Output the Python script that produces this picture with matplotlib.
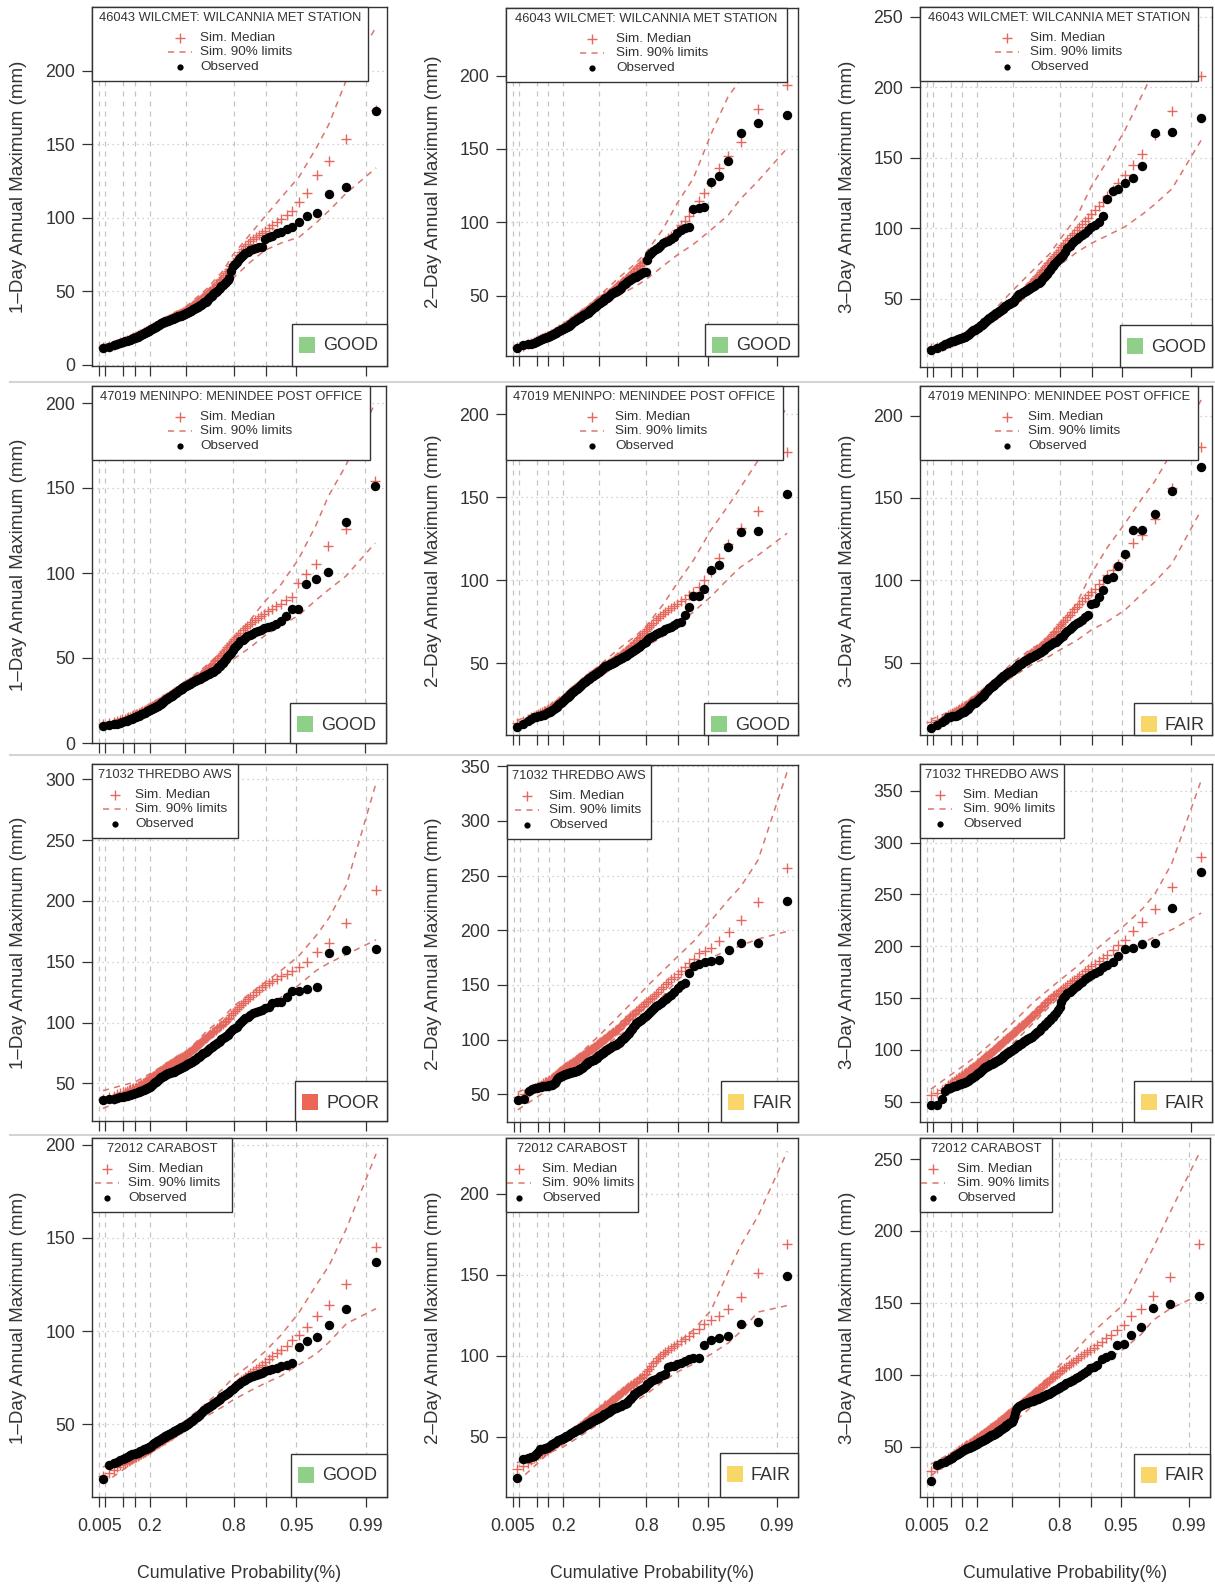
import numpy as np
import matplotlib
matplotlib.use("Agg")
import matplotlib.pyplot as plt
from matplotlib.patches import Rectangle
from matplotlib.lines import Line2D
from matplotlib.transforms import Affine2D
from matplotlib.ticker import MultipleLocator, NullLocator

plt.rcParams['font.family'] = ['Liberation Sans', 'DejaVu Sans']

# ------------------------------------------------------------------
# Data: sorted annual maxima (mm), simulated medians and 90% limits
# ------------------------------------------------------------------
N_YEARS = 127
LIM_RANKS = [1, 13, 26, 45, 64, 83, 96, 102, 110, 115, 119, 122, 124, 125, 126, 127]
PROB_TICKS = [0.005, 0.01, 0.05, 0.1, 0.2, 0.5, 0.8, 0.9, 0.95, 0.99]
PROB_LABELS = ['0.005', '', '', '', '0.2', '', '0.8', '', '0.95', '0.99']
DURATIONS = ['1\u2013Day', '2\u2013Day', '3\u2013Day']
STATIONS = ['46043 WILCMET: WILCANNIA MET STATION',
            '47019 MENINPO: MENINDEE POST OFFICE',
            '71032 THREDBO AWS',
            '72012 CARABOST']
RATINGS = [['GOOD', 'GOOD', 'GOOD'],
           ['GOOD', 'GOOD', 'FAIR'],
           ['POOR', 'FAIR', 'FAIR'],
           ['GOOD', 'FAIR', 'FAIR']]

# --- Wilcannia ---
WIL_1D_OBS = [11.8, 12.5, 13.6, 14.4, 15.2, 15.6, 16.0, 16.5, 16.8, 17.0,
              17.5, 18.1, 18.6, 19.0, 19.3, 19.7, 20.1, 20.6, 21.0, 21.5,
              21.9, 22.3, 22.7, 23.0, 23.4, 23.8, 24.2, 24.5, 24.9, 25.3,
              25.6, 26.0, 26.5, 27.0, 27.4, 27.9, 28.3, 28.8, 29.0, 29.2,
              29.4, 29.6, 29.8, 30.0, 30.2, 30.5, 30.7, 31.0, 31.2, 31.5,
              31.7, 32.0, 32.2, 32.5, 32.7, 33.0, 33.1, 33.3, 33.6, 33.9,
              34.2, 34.5, 34.8, 35.1, 35.5, 35.9, 36.3, 36.6, 37.0, 37.4,
              37.8, 38.2, 38.5, 38.9, 39.3, 39.6, 40.0, 40.5, 41.0, 41.5,
              42.0, 42.5, 43.0, 43.8, 44.6, 45.5, 46.3, 47.1, 48.0, 48.8,
              49.7, 50.6, 51.6, 52.5, 53.5, 54.4, 55.5, 56.7, 57.8, 59.0,
              64.0, 67.0, 68.5, 70.3, 72.0, 73.7, 75.0, 76.0, 77.0, 78.0,
              78.7, 79.4, 80.0, 80.5, 86.0, 87.0, 88.0, 89.5, 90.7, 92.3,
              94.0, 97.5, 101.6, 103.2, 116.3, 121.3, 173.0]
WIL_1D_MED = [12.0, 12.8, 13.5, 14.5, 15.3, 15.8, 16.3, 16.8, 17.3, 17.8,
              18.3, 18.7, 19.2, 19.6, 20.1, 20.5, 20.9, 21.4, 21.8, 22.2,
              22.6, 23.0, 23.4, 23.8, 24.1, 24.5, 24.8, 25.2, 25.5, 25.8,
              26.2, 26.5, 26.8, 27.2, 27.5, 27.8, 28.2, 28.5, 28.8, 29.2,
              29.5, 29.8, 30.2, 30.5, 30.8, 31.1, 31.5, 31.8, 32.1, 32.5,
              32.8, 33.1, 33.4, 33.7, 34.0, 34.3, 34.6, 34.8, 35.2, 35.6,
              36.0, 36.3, 36.6, 37.0, 37.5, 38.0, 38.5, 39.0, 39.5, 40.0,
              40.5, 41.0, 41.5, 42.0, 42.5, 43.0, 43.5, 44.2, 45.0, 45.6,
              46.3, 46.9, 47.5, 48.2, 49.0, 49.8, 50.6, 51.4, 52.2, 53.0,
              54.1, 55.2, 56.3, 57.5, 58.7, 60.0, 61.2, 62.4, 63.7, 65.0,
              67.0, 69.0, 71.0, 73.0, 75.0, 77.0, 79.0, 81.0, 82.5, 84.0,
              85.5, 87.0, 88.3, 89.5, 91.0, 93.0, 95.0, 97.0, 99.0, 102.0,
              105.0, 111.0, 117.0, 129.0, 139.0, 153.5, 173.5]
WIL_1D_LO = [10.5, 17.5, 22.5, 28.5, 33, 42, 52, 59, 70, 78, 83, 87, 97, 105, 117, 134]
WIL_1D_HI = [13.5, 20, 25.5, 32, 39.5, 51, 64, 75, 89, 101, 114, 128, 148, 164, 194, 230]

WIL_2D_OBS = [14.5, 16.4, 16.8, 17.1, 17.5, 18.2, 18.9, 19.6, 20.3, 20.9,
              21.3, 21.7, 22.1, 22.5, 22.9, 23.2, 23.8, 24.4, 24.9, 25.5,
              25.9, 26.2, 26.6, 27.0, 27.3, 27.7, 28.1, 28.5, 28.9, 29.2,
              29.6, 30.0, 30.5, 31.0, 31.5, 32.0, 32.5, 33.0, 33.4, 33.8,
              34.2, 34.6, 35.0, 35.4, 35.7, 36.1, 36.5, 36.9, 37.3, 37.6,
              38.0, 38.5, 39.0, 39.5, 40.0, 40.5, 41.0, 41.4, 42.0, 42.5,
              43.1, 43.6, 44.2, 44.8, 45.2, 45.7, 46.1, 46.6, 47.0, 47.5,
              48.1, 48.7, 49.3, 49.9, 50.5, 51.0, 51.6, 52.0, 52.4, 52.8,
              53.1, 53.5, 53.9, 54.7, 55.5, 56.3, 57.1, 57.9, 58.7, 59.5,
              60.1, 60.7, 61.3, 61.9, 62.5, 63.0, 63.5, 64.1, 64.6, 65.2,
              65.8, 66.4, 74.0, 77.7, 79.2, 80.7, 81.5, 82.3, 84.0, 85.7,
              86.6, 87.5, 88.4, 89.8, 92.5, 94.8, 96.4, 97.0, 109.0, 109.5,
              110.2, 127.3, 131.8, 142.0, 160.7, 167.5, 173.2]
WIL_2D_MED = [15.0, 16.0, 17.0, 17.8, 18.5, 19.1, 19.7, 20.3, 20.9, 21.5,
              21.9, 22.3, 22.8, 23.2, 23.6, 24.0, 24.5, 25.0, 25.5, 26.0,
              26.5, 27.0, 27.5, 28.0, 28.5, 29.0, 29.4, 29.8, 30.2, 30.7,
              31.1, 31.5, 32.0, 32.5, 33.0, 33.5, 34.0, 34.5, 34.9, 35.4,
              35.8, 36.3, 36.7, 37.1, 37.5, 37.9, 38.3, 38.8, 39.2, 39.6,
              40.0, 40.5, 41.0, 41.5, 42.0, 42.5, 43.0, 43.5, 44.0, 44.5,
              45.0, 45.5, 46.0, 46.5, 47.0, 47.5, 48.0, 48.5, 49.0, 49.5,
              50.0, 50.5, 51.0, 51.5, 52.0, 52.5, 53.0, 53.7, 54.3, 55.0,
              55.7, 56.3, 57.0, 57.7, 58.4, 59.2, 60.0, 60.7, 61.4, 62.0,
              63.0, 64.0, 65.0, 66.0, 67.0, 68.0, 69.0, 70.0, 71.0, 72.0,
              73.0, 74.0, 75.5, 77.0, 78.5, 80.0, 81.5, 83.0, 84.5, 86.0,
              87.5, 89.0, 90.5, 92.0, 95.0, 98.0, 101.0, 104.0, 108.0, 114.5,
              120.0, 127.0, 136.8, 145.0, 155.0, 177.0, 193.6]
WIL_2D_LO = [13.5, 20.5, 26, 33.5, 41, 50, 56.5, 60.7, 70, 77.7, 85, 94.8, 105, 116, 128, 150.5]
WIL_2D_HI = [15.5, 23.5, 29.5, 38.5, 49.5, 62, 72, 79, 95, 113, 130, 160, 186, 197, 212, 233]

WIL_3D_OBS = [13.9, 15.5, 16.8, 18.0, 19.1, 19.6, 20.1, 20.5, 21.0, 21.4,
              21.8, 22.2, 22.6, 23.0, 23.4, 23.8, 24.6, 25.3, 26.1, 26.9,
              27.4, 27.8, 28.3, 28.8, 29.2, 29.7, 30.2, 30.7, 31.3, 31.8,
              32.3, 32.8, 33.4, 34.0, 34.6, 35.2, 35.7, 36.3, 36.7, 37.2,
              37.6, 38.1, 38.5, 39.0, 39.4, 39.9, 40.3, 40.8, 41.3, 41.7,
              42.2, 42.7, 43.2, 43.7, 44.3, 44.8, 45.3, 45.8, 46.2, 46.6,
              46.9, 47.3, 47.7, 48.1, 48.9, 49.7, 50.4, 51.2, 52.0, 52.8,
              53.2, 53.7, 54.1, 54.6, 55.0, 55.5, 55.9, 56.4, 56.8, 57.3,
              57.8, 58.2, 58.7, 59.3, 59.8, 60.4, 61.0, 61.5, 62.1, 62.7,
              64.0, 65.3, 66.6, 67.9, 69.2, 70.5, 72.0, 73.4, 74.9, 76.4,
              77.6, 78.8, 80.0, 81.2, 83.5, 85.9, 87.6, 89.4, 90.8, 92.3,
              93.8, 95.3, 97.1, 98.9, 100.8, 102.4, 104.8, 108.8, 120.6, 126.7,
              127.7, 131.9, 135.5, 144.4, 167.3, 168.3, 178.4]
WIL_3D_MED = [15.0, 16.0, 16.8, 17.7, 18.5, 19.0, 19.6, 20.2, 20.8, 21.4,
              21.9, 22.4, 22.9, 23.4, 23.9, 24.4, 25.0, 25.5, 26.0, 26.5,
              27.0, 27.5, 28.0, 28.5, 29.0, 29.5, 30.0, 30.5, 31.0, 31.5,
              32.0, 32.5, 33.0, 33.5, 34.0, 34.5, 35.0, 35.5, 36.0, 36.5,
              37.0, 37.4, 37.8, 38.3, 38.7, 39.2, 39.6, 40.1, 40.6, 41.1,
              41.6, 42.1, 42.6, 43.1, 43.6, 44.1, 44.6, 45.1, 45.7, 46.3,
              46.9, 47.5, 48.0, 48.5, 49.1, 49.6, 50.2, 50.8, 51.4, 52.0,
              52.7, 53.4, 54.1, 54.8, 55.5, 56.3, 57.0, 57.8, 58.6, 59.5,
              60.4, 61.2, 62.0, 63.0, 64.0, 65.0, 66.0, 67.0, 68.0, 69.0,
              70.2, 71.4, 72.6, 73.9, 75.2, 76.5, 77.9, 79.3, 80.6, 82.0,
              83.5, 85.0, 86.5, 88.0, 89.8, 91.5, 93.2, 95.0, 97.0, 99.0,
              101.0, 103.0, 105.3, 107.5, 110.0, 113.0, 116.0, 119.0, 123.0, 127.0,
              132.0, 138.0, 145.0, 153.0, 166.0, 183.0, 208.0]
WIL_3D_LO = [13, 20.5, 27, 35.5, 44, 55, 67, 74, 83, 89.4, 95, 101.2, 110, 117, 128, 162.6]
WIL_3D_HI = [15.5, 24, 32, 43, 56, 70, 82, 91.8, 108, 129.6, 148, 169.7, 195, 213, 230, 245]

# --- Menindee ---
MEN_1D_OBS = [10.2, 10.6, 11.0, 11.4, 11.8, 12.3, 12.7, 13.2, 13.6, 14.1,
              14.4, 14.8, 15.1, 15.4, 15.8, 16.1, 16.5, 16.9, 17.2, 17.6,
              17.9, 18.3, 18.6, 18.9, 19.3, 19.6, 19.9, 20.1, 20.4, 20.7,
              20.9, 21.2, 21.6, 22.0, 22.3, 22.7, 23.1, 23.5, 23.9, 24.4,
              24.8, 25.2, 25.7, 26.1, 26.5, 26.8, 27.1, 27.5, 27.8, 28.1,
              28.4, 28.8, 29.3, 29.7, 30.1, 30.5, 31.0, 31.4, 31.7, 32.0,
              32.4, 32.7, 33.0, 33.3, 33.6, 34.0, 34.3, 34.6, 35.0, 35.3,
              35.6, 36.0, 36.3, 36.6, 36.9, 37.3, 37.6, 37.9, 38.3, 38.6,
              38.9, 39.3, 39.6, 40.0, 40.3, 40.7, 41.1, 41.5, 41.8, 42.2,
              43.0, 43.8, 44.6, 45.4, 46.2, 47.0, 48.3, 49.5, 50.8, 52.0,
              53.2, 54.5, 55.7, 56.9, 58.4, 59.8, 60.8, 61.8, 62.8, 63.7,
              64.4, 65.1, 65.9, 66.7, 67.5, 68.2, 69.0, 70.2, 71.6, 74.9,
              78.8, 78.8, 93.5, 96.5, 100.6, 129.8, 151.0]
MEN_1D_MED = [11.0, 11.5, 12.1, 12.8, 13.5, 13.9, 14.3, 14.7, 15.1, 15.5,
              15.8, 16.2, 16.5, 16.8, 17.2, 17.5, 17.9, 18.3, 18.6, 19.0,
              19.3, 19.7, 20.0, 20.3, 20.7, 21.0, 21.3, 21.7, 22.0, 22.3,
              22.7, 23.0, 23.3, 23.7, 24.0, 24.3, 24.7, 25.0, 25.4, 25.7,
              26.0, 26.3, 26.6, 27.0, 27.3, 27.6, 28.0, 28.4, 28.8, 29.1,
              29.5, 29.8, 30.1, 30.4, 30.7, 31.1, 31.5, 32.0, 32.3, 32.6,
              33.0, 33.3, 33.6, 34.0, 34.3, 34.6, 35.0, 35.3, 35.7, 36.0,
              36.4, 36.8, 37.3, 37.7, 38.1, 38.5, 39.0, 39.4, 39.9, 40.4,
              40.9, 41.4, 42.0, 42.7, 43.5, 44.2, 44.9, 45.6, 46.3, 47.0,
              48.0, 49.0, 50.0, 51.0, 52.0, 53.0, 54.1, 55.2, 56.3, 57.5,
              58.7, 60.0, 61.2, 62.5, 63.7, 65.0, 66.3, 67.5, 68.8, 70.0,
              71.3, 72.5, 73.8, 75.0, 76.0, 77.5, 79.0, 80.5, 82.0, 84.0,
              86.0, 94.0, 99.4, 105.3, 115.7, 125.9, 153.9]
MEN_1D_LO = [9, 14, 18.5, 25, 31, 37.5, 44, 49, 56, 63, 69, 75, 84, 90, 98, 117.6]
MEN_1D_HI = [11.5, 17, 21.5, 28.5, 36, 45, 54, 60.8, 72, 83, 93, 108, 128, 145, 163, 200]

MEN_2D_OBS = [11.4, 13.5, 15.0, 16.4, 17.5, 17.8, 18.0, 18.3, 18.6, 18.9,
              19.4, 19.9, 20.4, 20.9, 21.4, 21.9, 22.4, 22.9, 23.4, 23.9,
              24.6, 25.2, 25.9, 26.6, 27.2, 27.9, 28.4, 28.9, 29.4, 29.9,
              30.4, 30.9, 31.4, 31.9, 32.4, 32.9, 33.4, 33.9, 34.3, 34.8,
              35.2, 35.7, 36.1, 36.6, 37.0, 37.5, 38.0, 38.5, 39.0, 39.5,
              40.0, 40.3, 40.7, 41.0, 41.4, 41.7, 42.1, 42.4, 42.8, 43.3,
              43.7, 44.1, 44.6, 45.0, 45.5, 46.0, 46.5, 47.0, 47.5, 48.0,
              48.3, 48.6, 48.9, 49.1, 49.4, 49.7, 50.0, 50.3, 50.7, 51.0,
              51.3, 51.7, 52.0, 52.4, 52.9, 53.3, 53.7, 54.1, 54.6, 55.0,
              55.6, 56.1, 56.7, 57.3, 57.8, 58.4, 59.2, 59.9, 60.7, 61.4,
              62.3, 63.1, 64.1, 65.1, 65.9, 66.7, 67.4, 68.1, 68.9, 69.7,
              70.4, 71.1, 72.1, 73.1, 74.1, 75.1, 79.1, 83.7, 90.6, 90.6,
              94.6, 106.2, 109.2, 120.3, 128.9, 129.9, 152.0]
MEN_2D_MED = [14.0, 15.2, 16.3, 17.4, 18.5, 19.0, 19.5, 20.0, 20.5, 21.0,
              21.5, 22.0, 22.5, 23.0, 23.5, 24.0, 24.5, 25.0, 25.5, 26.0,
              26.5, 27.0, 27.5, 28.0, 28.5, 29.0, 29.5, 30.0, 30.5, 31.0,
              31.5, 32.0, 32.5, 33.0, 33.5, 34.0, 34.5, 35.0, 35.4, 35.9,
              36.3, 36.7, 37.1, 37.6, 38.0, 38.5, 39.0, 39.5, 40.0, 40.5,
              41.0, 41.4, 41.7, 42.1, 42.5, 42.8, 43.2, 43.5, 43.9, 44.3,
              44.8, 45.2, 45.6, 46.0, 46.4, 46.8, 47.3, 47.7, 48.1, 48.5,
              48.9, 49.2, 49.6, 49.9, 50.3, 50.6, 51.0, 51.5, 52.0, 52.5,
              53.0, 53.5, 54.0, 54.6, 55.1, 55.7, 56.3, 56.9, 57.4, 58.0,
              58.8, 59.7, 60.5, 61.3, 62.2, 63.0, 64.0, 65.0, 66.0, 67.0,
              68.3, 69.5, 70.8, 72.0, 73.3, 74.5, 75.8, 77.0, 78.3, 79.5,
              80.8, 82.0, 83.3, 84.5, 86.0, 87.5, 89.0, 91.0, 93.0, 96.0,
              100.0, 105.0, 113.3, 122.0, 131.3, 142.0, 177.5]
MEN_2D_LO = [11, 18.5, 25.5, 34, 41.5, 49, 55.5, 60, 66, 73, 81, 90.2, 101, 108, 115, 128.3]
MEN_2D_HI = [15.5, 23, 30.5, 39.5, 48.5, 58.5, 66.5, 72, 85, 98.2, 112, 130.3, 145, 156, 172, 205]

MEN_3D_OBS = [10.1, 12.0, 13.8, 15.5, 16.8, 17.1, 17.4, 17.6, 17.9, 18.2,
              18.7, 19.2, 19.8, 20.3, 20.8, 21.3, 22.1, 22.8, 23.6, 24.3,
              24.8, 25.3, 25.8, 26.3, 26.8, 27.3, 27.8, 28.3, 28.9, 29.4,
              29.9, 30.4, 31.1, 31.7, 32.4, 33.1, 33.7, 34.4, 34.8, 35.3,
              35.7, 36.1, 36.5, 37.0, 37.4, 37.9, 38.4, 38.9, 39.5, 40.0,
              40.5, 40.9, 41.4, 41.8, 42.2, 42.7, 43.1, 43.5, 43.8, 44.2,
              44.5, 44.8, 45.2, 45.5, 46.0, 46.6, 47.1, 47.6, 48.1, 48.6,
              49.0, 49.5, 49.9, 50.3, 50.8, 51.2, 51.6, 51.9, 52.3, 52.6,
              52.9, 53.3, 53.6, 54.0, 54.5, 54.9, 55.4, 55.8, 56.3, 56.7,
              57.4, 58.0, 58.7, 59.4, 60.0, 60.7, 61.2, 61.8, 62.3, 62.8,
              63.8, 64.8, 65.6, 66.4, 67.9, 69.4, 70.7, 71.9, 72.9, 73.9,
              74.9, 75.9, 77.5, 79.0, 85.4, 86.0, 90.0, 94.1, 100.6, 101.8,
              108.7, 115.8, 130.6, 130.6, 140.0, 154.5, 168.6]
MEN_3D_MED = [14.0, 15.0, 16.1, 17.3, 18.5, 19.1, 19.7, 20.3, 20.9, 21.5,
              22.1, 22.6, 23.1, 23.6, 24.0, 24.5, 25.0, 25.5, 26.0, 26.5,
              27.0, 27.4, 27.8, 28.3, 28.9, 29.5, 30.0, 30.4, 30.8, 31.2,
              31.6, 32.0, 32.5, 33.0, 33.5, 34.0, 34.5, 35.0, 35.4, 35.9,
              36.3, 36.7, 37.1, 37.6, 38.0, 38.5, 38.9, 39.3, 39.8, 40.2,
              41.0, 41.3, 41.7, 42.1, 42.4, 42.8, 43.1, 43.5, 43.9, 44.3,
              44.8, 45.2, 45.6, 46.0, 46.5, 47.0, 47.5, 48.0, 48.5, 49.0,
              49.5, 50.0, 50.5, 51.0, 51.5, 52.0, 52.5, 53.1, 53.8, 54.4,
              55.1, 55.7, 56.0, 56.6, 57.1, 57.7, 58.3, 58.9, 59.4, 60.0,
              60.8, 61.7, 62.5, 63.3, 64.2, 65.0, 66.1, 67.2, 68.4, 69.5,
              70.8, 72.0, 73.2, 74.5, 76.0, 77.5, 79.0, 80.5, 82.3, 84.0,
              85.8, 87.5, 89.3, 91.0, 93.0, 95.0, 97.5, 100.0, 103.0, 106.0,
              110.0, 115.0, 122.5, 127.5, 137.0, 156.0, 181.0]
MEN_3D_LO = [10.5, 18, 25.5, 34, 41.5, 49, 54, 57.7, 63.5, 69.8, 75, 82, 92, 99, 110, 142.7]
MEN_3D_HI = [15.5, 23.5, 31, 40.5, 50, 59, 64, 70, 86, 104, 120, 134.6, 150, 160, 178, 209.5]

# --- Thredbo ---
THR_1D_OBS = [36.3, 36.9, 37.4, 38.0, 38.5, 38.9, 39.2, 39.6, 40.0, 40.4,
              40.9, 41.3, 41.8, 42.2, 42.7, 43.1, 43.5, 43.8, 44.2, 44.5,
              45.0, 45.4, 45.9, 46.4, 46.8, 47.3, 48.0, 48.7, 49.4, 50.0,
              50.7, 51.4, 52.1, 52.8, 53.4, 54.1, 54.8, 55.5, 55.9, 56.3,
              56.7, 57.0, 57.4, 57.8, 58.2, 58.4, 58.7, 58.9, 59.1, 59.4,
              59.6, 60.0, 60.4, 60.8, 61.1, 61.5, 61.9, 62.3, 62.8, 63.2,
              63.7, 64.2, 64.6, 65.1, 65.5, 66.0, 66.4, 66.9, 67.3, 67.8,
              68.4, 69.0, 69.5, 70.1, 70.7, 71.3, 71.9, 72.6, 73.3, 74.0,
              74.6, 75.3, 76.0, 76.8, 77.6, 78.4, 79.2, 79.9, 80.7, 81.5,
              82.4, 83.3, 84.3, 85.2, 86.1, 87.0, 88.0, 89.1, 90.1, 91.1,
              92.8, 94.4, 95.5, 96.6, 98.7, 100.7, 102.1, 103.5, 104.9, 106.2,
              107.6, 108.9, 109.6, 110.3, 111.7, 113.0, 115.8, 116.6, 117.2, 121.3,
              126.2, 126.2, 127.3, 129.0, 156.9, 159.6, 160.5]
THR_1D_MED = [37.0, 38.5, 39.8, 41.0, 42.0, 42.6, 43.2, 43.8, 44.4, 45.0,
              45.5, 46.0, 46.5, 47.0, 47.5, 48.0, 48.6, 49.3, 49.9, 50.5,
              51.1, 51.7, 52.3, 52.8, 53.4, 54.0, 54.6, 55.2, 55.7, 56.3,
              56.9, 57.5, 58.1, 58.7, 59.3, 59.9, 60.4, 61.0, 61.5, 62.0,
              62.5, 63.0, 63.5, 64.0, 64.5, 65.0, 65.5, 66.0, 66.5, 67.0,
              67.5, 67.9, 68.3, 68.8, 69.2, 69.6, 70.1, 70.5, 71.1, 71.6,
              72.0, 72.5, 73.0, 73.5, 74.1, 74.8, 75.4, 76.0, 76.7, 77.3,
              78.0, 78.7, 79.4, 80.1, 80.8, 81.5, 82.3, 83.0, 83.8, 84.6,
              85.4, 86.2, 87.0, 87.9, 88.8, 89.7, 90.6, 91.5, 92.4, 93.3,
              94.2, 95.1, 96.0, 97.0, 98.0, 99.0, 100.2, 101.5, 102.8, 104.0,
              106.0, 108.0, 109.5, 111.0, 112.7, 114.3, 116.0, 117.7, 119.3, 121.0,
              123.0, 125.0, 127.0, 129.0, 131.0, 132.7, 134.3, 136.0, 138.0, 140.0,
              142.0, 146.0, 150.0, 157.7, 165.7, 181.6, 209.0]
THR_1D_LO = [29.4, 40, 47, 56, 64, 76, 87, 94, 104, 113, 121, 131, 143, 149, 156, 168]
THR_1D_HI = [44, 51, 58, 67, 75, 92, 104, 113, 124, 133, 143, 155, 172, 186, 213, 297]

THR_2D_OBS = [44.8, 45.4, 53.0, 54.8, 56.0, 56.3, 56.6, 57.0, 57.3, 57.6,
              57.9, 58.1, 58.4, 58.7, 58.9, 59.1, 60.6, 62.2, 63.7, 65.2,
              65.7, 66.2, 66.7, 67.2, 67.7, 68.2, 68.5, 68.8, 69.0, 69.3,
              69.5, 69.8, 70.1, 70.3, 70.6, 70.8, 71.1, 71.3, 71.7, 72.2,
              72.6, 73.0, 73.4, 73.9, 74.3, 75.1, 75.8, 76.6, 77.4, 78.1,
              78.9, 79.3, 79.8, 80.2, 80.6, 81.0, 81.5, 81.9, 82.5, 83.1,
              83.7, 84.4, 85.0, 85.6, 86.3, 86.9, 87.6, 88.2, 88.9, 89.5,
              90.2, 90.8, 91.5, 92.1, 92.8, 93.4, 94.1, 94.6, 95.1, 95.6,
              96.1, 96.6, 97.1, 98.2, 99.3, 100.4, 101.5, 102.6, 103.8, 105.0,
              106.5, 108.0, 110.0, 112.0, 113.5, 115.0, 116.2, 117.3, 118.4, 119.5,
              120.8, 122.0, 123.5, 125.0, 127.0, 129.0, 130.5, 132.0, 133.5, 135.1,
              137.0, 139.0, 141.2, 143.3, 147.2, 149.7, 151.8, 160.9, 167.0, 169.4,
              170.6, 172.0, 173.0, 182.2, 188.3, 188.3, 226.8]
THR_2D_MED = [48.0, 50.5, 52.5, 54.5, 56.0, 57.0, 58.0, 59.0, 60.0, 61.0,
              61.8, 62.6, 63.5, 64.3, 65.2, 66.0, 67.0, 67.9, 68.7, 69.5,
              70.3, 71.0, 71.8, 72.5, 73.3, 74.0, 74.6, 75.2, 75.8, 76.3,
              76.9, 77.5, 78.1, 78.7, 79.3, 79.9, 80.4, 81.0, 81.6, 82.1,
              82.7, 83.3, 83.9, 84.4, 85.0, 85.7, 86.3, 87.0, 87.7, 88.3,
              89.0, 89.6, 90.1, 90.7, 91.3, 91.9, 92.4, 93.0, 93.7, 94.3,
              95.0, 95.7, 96.3, 97.0, 97.7, 98.3, 99.0, 99.7, 100.3, 101.0,
              101.7, 102.4, 103.1, 103.9, 104.6, 105.3, 106.0, 106.8, 107.7, 108.5,
              109.3, 110.2, 111.0, 112.1, 113.3, 114.4, 115.6, 116.7, 117.9, 119.0,
              120.2, 121.3, 122.5, 123.7, 124.8, 126.0, 127.3, 128.5, 129.8, 131.0,
              132.5, 134.0, 135.5, 137.0, 138.5, 140.0, 142.0, 144.0, 146.3, 148.5,
              150.8, 153.0, 155.3, 157.5, 160.0, 163.0, 166.0, 170.0, 174.0, 179.0,
              181.0, 184.0, 190.0, 198.0, 209.5, 226.0, 257.0]
THR_2D_LO = [36, 55, 65, 79, 90, 104, 114, 120, 140, 155, 165, 175, 182, 186, 192, 199]
THR_2D_HI = [52, 64, 76, 89, 104, 122, 138, 148, 163, 176, 190, 209, 228, 240, 264, 345]

THR_3D_OBS = [46.8, 46.8, 52.6, 60.6, 62.9, 63.5, 64.2, 64.8, 65.5, 66.1,
              66.6, 67.2, 67.7, 68.2, 68.8, 69.3, 70.1, 70.9, 71.7, 72.5,
              73.3, 74.1, 74.9, 75.7, 76.5, 77.3, 78.1, 78.9, 79.8, 80.6,
              81.4, 82.2, 82.7, 83.3, 83.8, 84.3, 84.9, 85.4, 85.9, 86.3,
              86.8, 87.2, 87.7, 88.1, 88.6, 89.1, 89.7, 90.2, 90.7, 91.3,
              91.8, 92.5, 93.2, 93.9, 94.6, 95.3, 96.0, 96.7, 97.3, 98.0,
              98.6, 99.2, 99.9, 100.5, 101.2, 101.9, 102.6, 103.3, 104.0, 104.7,
              105.4, 106.1, 106.7, 107.4, 108.1, 108.8, 109.5, 110.0, 110.6, 111.1,
              111.6, 112.2, 112.7, 113.9, 115.0, 116.2, 117.3, 118.5, 119.6, 120.8,
              122.1, 123.5, 124.8, 126.1, 127.5, 128.8, 130.4, 132.0, 133.7, 135.3,
              138.5, 141.7, 145.7, 149.7, 152.2, 154.6, 156.2, 157.8, 159.7, 161.6,
              163.7, 165.8, 167.9, 170.0, 172.3, 173.9, 176.4, 179.7, 182.0, 185.1,
              190.6, 197.0, 198.0, 202.2, 202.8, 236.6, 271.4]
THR_3D_MED = [56.0, 58.5, 61.0, 63.5, 66.0, 67.5, 69.0, 70.3, 71.6, 73.0,
              74.0, 74.9, 75.8, 76.7, 77.6, 78.5, 79.4, 80.3, 81.1, 82.0,
              82.8, 83.7, 84.5, 85.3, 86.2, 87.0, 87.8, 88.5, 89.3, 90.0,
              90.8, 91.5, 92.3, 93.0, 93.8, 94.5, 95.3, 96.0, 96.7, 97.4,
              98.1, 98.9, 99.6, 100.3, 101.0, 101.8, 102.6, 103.4, 104.2, 105.0,
              106.0, 106.7, 107.4, 108.1, 108.9, 109.6, 110.3, 111.0, 111.8, 112.7,
              113.5, 114.3, 115.2, 116.0, 116.8, 117.7, 118.5, 119.3, 120.2, 121.0,
              121.9, 122.7, 123.6, 124.4, 125.3, 126.1, 127.0, 128.0, 129.0, 130.0,
              131.0, 132.0, 133.0, 134.1, 135.3, 136.4, 137.6, 138.7, 139.9, 141.0,
              142.3, 143.7, 145.0, 146.3, 147.7, 149.0, 150.3, 151.5, 152.8, 154.0,
              155.3, 156.5, 158.0, 159.5, 161.0, 162.5, 164.3, 166.0, 167.8, 169.5,
              171.5, 173.5, 175.8, 178.0, 180.5, 183.0, 186.0, 189.0, 192.0, 196.0,
              201.0, 206.0, 214.7, 223.0, 235.6, 257.5, 286.5]
THR_3D_LO = [45, 66, 78, 92, 106, 125, 142, 151, 163, 174, 184, 193, 203, 209, 216, 232]
THR_3D_HI = [62, 84, 95, 110, 126, 145, 159, 167, 180, 193, 206, 220.5, 236, 250, 280, 360]

# --- Carabost ---
CAR_1D_OBS = [20.5, 28.0, 29.0, 30.0, 31.0, 31.5, 32.0, 32.5, 33.0, 33.5,
              33.8, 34.0, 34.3, 34.5, 34.8, 35.0, 35.4, 35.8, 36.1, 36.5,
              36.8, 37.0, 37.3, 37.5, 37.8, 38.0, 38.4, 38.8, 39.3, 39.7,
              40.1, 40.5, 40.8, 41.2, 41.5, 41.8, 42.2, 42.5, 42.8, 43.1,
              43.4, 43.6, 43.9, 44.2, 44.5, 44.8, 45.0, 45.3, 45.5, 45.8,
              46.0, 46.3, 46.6, 46.9, 47.1, 47.4, 47.7, 48.0, 48.3, 48.5,
              48.8, 49.0, 49.3, 49.5, 49.9, 50.3, 50.8, 51.2, 51.6, 52.0,
              52.4, 52.9, 53.3, 53.7, 54.1, 54.6, 55.0, 55.5, 56.0, 56.5,
              57.0, 57.5, 58.0, 58.5, 59.0, 59.5, 60.0, 60.5, 61.0, 61.5,
              62.1, 62.7, 63.2, 63.8, 64.4, 65.0, 65.6, 66.3, 66.9, 67.5,
              68.3, 69.0, 70.0, 71.0, 71.8, 72.5, 73.3, 74.0, 74.8, 75.5,
              76.0, 76.5, 77.0, 77.5, 78.5, 79.0, 79.5, 80.0, 81.0, 82.0,
              82.6, 91.5, 94.5, 97.0, 103.0, 112.0, 137.0]
CAR_1D_MED = [22.0, 24.0, 25.5, 27.0, 28.0, 28.6, 29.2, 29.8, 30.4, 31.0,
              31.4, 31.8, 32.3, 32.7, 33.1, 33.5, 33.9, 34.2, 34.6, 35.0,
              35.3, 35.7, 36.0, 36.3, 36.7, 37.0, 37.4, 37.7, 38.1, 38.5,
              38.8, 39.2, 39.5, 39.8, 40.1, 40.4, 40.8, 41.1, 41.4, 41.7,
              42.0, 42.3, 42.6, 43.0, 43.3, 43.6, 43.9, 44.2, 44.5, 44.8,
              45.1, 45.4, 45.8, 46.1, 46.4, 46.7, 47.0, 47.3, 47.6, 48.0,
              48.4, 48.7, 49.1, 49.5, 49.9, 50.3, 50.8, 51.2, 51.6, 52.0,
              52.4, 52.9, 53.3, 53.7, 54.1, 54.6, 55.0, 55.5, 56.0, 56.5,
              57.0, 57.5, 58.0, 58.5, 59.0, 59.5, 60.0, 60.5, 61.0, 61.5,
              62.1, 62.7, 63.2, 63.8, 64.4, 65.0, 65.6, 66.3, 66.9, 67.5,
              68.5, 69.5, 70.5, 71.5, 72.5, 73.5, 74.5, 75.5, 76.5, 77.5,
              78.5, 79.5, 80.7, 82.0, 83.5, 85.0, 86.5, 88.0, 90.0, 92.0,
              95.0, 98.0, 102.0, 108.0, 114.0, 125.0, 145.0]
CAR_1D_LO = [18, 30, 35, 41.5, 47, 54, 59.5, 63, 68, 72, 76, 82, 88, 94, 104, 112]
CAR_1D_HI = [27, 35, 40, 46, 52, 61, 69, 75, 82, 89, 98, 110, 125, 135, 155, 195]

CAR_2D_OBS = [25.0, 36.7, 37.3, 37.8, 38.3, 39.7, 41.0, 42.4, 42.4, 42.4,
              42.9, 43.4, 44.0, 44.5, 45.0, 45.5, 46.0, 46.5, 47.0, 47.5,
              47.9, 48.2, 48.6, 48.9, 49.3, 49.6, 49.9, 50.3, 50.6, 50.9,
              51.3, 51.6, 51.9, 52.3, 52.6, 53.0, 53.3, 53.7, 54.0, 54.3,
              54.5, 54.8, 55.1, 55.4, 55.7, 56.0, 56.4, 56.8, 57.1, 57.5,
              57.8, 58.1, 58.4, 58.7, 59.0, 59.3, 59.6, 59.9, 60.2, 60.6,
              60.9, 61.2, 61.6, 61.9, 62.3, 62.6, 63.0, 63.3, 63.7, 64.0,
              64.4, 64.9, 65.3, 65.7, 66.1, 66.6, 67.0, 67.3, 67.6, 67.8,
              68.1, 68.4, 68.7, 69.0, 69.4, 69.7, 70.1, 70.4, 70.8, 71.1,
              72.1, 73.2, 74.2, 75.2, 76.3, 77.3, 77.8, 78.4, 78.9, 79.4,
              80.4, 81.4, 82.5, 83.5, 84.2, 84.9, 85.7, 86.5, 87.3, 88.0,
              88.6, 93.3, 93.5, 93.7, 94.7, 95.8, 96.8, 97.8, 98.4, 98.4,
              106.7, 109.7, 111.2, 112.2, 119.4, 121.0, 149.1]
CAR_2D_MED = [30.0, 32.0, 34.0, 35.6, 37.0, 37.8, 38.6, 39.4, 40.2, 41.0,
              41.6, 42.2, 42.8, 43.5, 44.0, 44.5, 45.0, 45.5, 46.0, 46.5,
              46.9, 47.3, 47.8, 48.2, 48.6, 49.0, 49.4, 49.8, 50.3, 50.7,
              51.1, 51.5, 52.0, 52.4, 52.8, 53.2, 53.6, 54.0, 54.4, 54.9,
              55.3, 55.7, 56.1, 56.6, 57.0, 57.5, 58.0, 58.5, 59.0, 59.5,
              60.0, 60.4, 60.9, 61.3, 61.7, 62.1, 62.6, 63.0, 63.5, 64.0,
              64.5, 65.0, 65.5, 66.0, 66.5, 67.0, 67.5, 68.0, 68.5, 69.0,
              69.5, 70.0, 70.5, 71.0, 71.5, 72.0, 72.5, 73.0, 73.5, 74.0,
              74.6, 75.3, 76.0, 76.6, 77.1, 77.7, 78.3, 78.9, 79.4, 80.0,
              80.7, 81.3, 82.0, 82.7, 83.3, 84.0, 84.8, 85.5, 86.3, 87.0,
              88.0, 89.0, 90.5, 92.0, 93.7, 95.3, 97.0, 98.5, 100.0, 101.0,
              102.3, 103.5, 104.8, 106.0, 107.5, 109.0, 110.5, 112.0, 114.0, 116.5,
              119.5, 122.0, 124.5, 129.0, 136.0, 151.0, 169.0]
CAR_2D_LO = [22, 40, 44, 51, 58, 66, 72, 76, 84, 90, 95, 101, 108, 115, 127, 131]
CAR_2D_HI = [34, 44, 50.6, 58, 67, 77, 84, 90, 100, 108, 116, 128, 152, 168, 186, 226]

CAR_3D_OBS = [26.3, 37.7, 38.7, 39.7, 40.7, 41.6, 42.6, 43.5, 44.5, 45.4,
              46.0, 46.5, 47.1, 47.7, 48.2, 48.8, 49.1, 49.4, 49.7, 50.0,
              50.4, 50.8, 51.2, 51.5, 51.9, 52.3, 52.7, 53.1, 53.4, 53.8,
              54.2, 54.6, 55.0, 55.4, 55.8, 56.2, 56.6, 57.0, 57.3, 57.7,
              58.0, 58.3, 58.6, 59.0, 59.3, 59.7, 60.1, 60.5, 60.8, 61.2,
              61.6, 62.1, 62.6, 63.1, 63.6, 64.1, 64.6, 65.1, 65.5, 65.9,
              66.3, 66.6, 67.0, 67.4, 68.5, 71.0, 73.5, 75.5, 76.8, 77.8,
              78.1, 78.5, 78.8, 79.2, 79.5, 79.9, 80.2, 80.5, 80.7, 81.0,
              81.3, 81.6, 81.8, 82.2, 82.5, 82.9, 83.2, 83.6, 83.9, 84.3,
              84.8, 85.2, 85.7, 86.2, 86.6, 87.1, 87.7, 88.3, 88.8, 89.4,
              90.0, 90.6, 91.5, 92.4, 93.3, 94.1, 94.9, 95.7, 96.7, 97.6,
              98.8, 99.9, 101.4, 102.9, 104.5, 105.7, 106.8, 110.8, 112.2, 113.8,
              120.7, 121.4, 127.7, 133.5, 146.7, 149.0, 154.8]
CAR_3D_MED = [33.0, 35.5, 38.0, 40.0, 42.0, 43.0, 44.0, 45.0, 46.0, 47.0,
              47.7, 48.3, 49.0, 49.7, 50.3, 51.0, 51.5, 52.0, 52.5, 53.0,
              53.5, 54.0, 54.5, 55.0, 55.5, 56.0, 56.5, 57.0, 57.5, 58.0,
              58.5, 59.0, 59.5, 60.0, 60.5, 61.0, 61.5, 62.0, 62.4, 62.9,
              63.3, 63.7, 64.1, 64.6, 65.0, 65.5, 66.1, 66.6, 67.1, 67.5,
              68.0, 68.5, 69.0, 69.5, 70.0, 70.5, 71.0, 71.5, 72.0, 72.6,
              73.1, 73.5, 74.0, 74.5, 75.1, 75.7, 76.3, 76.8, 77.4, 78.0,
              78.6, 79.1, 79.7, 80.3, 80.9, 81.4, 82.0, 82.7, 83.3, 84.0,
              84.7, 85.3, 86.0, 86.7, 87.4, 88.1, 88.9, 89.6, 90.3, 91.0,
              91.8, 92.7, 93.5, 94.3, 95.2, 96.0, 96.9, 97.8, 98.6, 99.5,
              100.5, 101.5, 102.5, 103.5, 104.5, 105.5, 106.8, 108.0, 109.3, 110.5,
              111.8, 113.0, 114.5, 116.0, 117.5, 119.0, 121.0, 123.0, 125.5, 128.0,
              131.0, 135.0, 141.0, 146.0, 154.5, 168.0, 191.0]
CAR_3D_LO = [30, 45, 51, 58, 66, 78, 88, 93, 100, 105, 110, 118, 128, 138, 146, 155.5]
CAR_3D_HI = [38, 50, 57, 66, 76, 88, 98, 106, 117, 128, 138, 149, 172, 188, 213, 254]

SERIES = [
    [(WIL_1D_OBS, WIL_1D_MED, WIL_1D_LO, WIL_1D_HI),
     (WIL_2D_OBS, WIL_2D_MED, WIL_2D_LO, WIL_2D_HI),
     (WIL_3D_OBS, WIL_3D_MED, WIL_3D_LO, WIL_3D_HI)],
    [(MEN_1D_OBS, MEN_1D_MED, MEN_1D_LO, MEN_1D_HI),
     (MEN_2D_OBS, MEN_2D_MED, MEN_2D_LO, MEN_2D_HI),
     (MEN_3D_OBS, MEN_3D_MED, MEN_3D_LO, MEN_3D_HI)],
    [(THR_1D_OBS, THR_1D_MED, THR_1D_LO, THR_1D_HI),
     (THR_2D_OBS, THR_2D_MED, THR_2D_LO, THR_2D_HI),
     (THR_3D_OBS, THR_3D_MED, THR_3D_LO, THR_3D_HI)],
    [(CAR_1D_OBS, CAR_1D_MED, CAR_1D_LO, CAR_1D_HI),
     (CAR_2D_OBS, CAR_2D_MED, CAR_2D_LO, CAR_2D_HI),
     (CAR_3D_OBS, CAR_3D_MED, CAR_3D_LO, CAR_3D_HI)],
]

# ------------------------------------------------------------------
# Panel geometry (pixels): plot box, y range, legend and rating boxes
# ------------------------------------------------------------------
LAYOUT = [
    [dict(box=(92, 7, 387, 366), ylim=(-0.7, 243.5), leg_w=276, mk=88, tx=108, status=(292, 324, 387, 366)),
     dict(box=(506, 8, 798, 356), ylim=(8.9, 246), leg_w=281, mk=86, tx=110, status=(705, 324, 798, 356)),
     dict(box=(920, 7, 1212, 367), ylim=(1.8, 256.9), leg_w=278, mk=87, tx=110, status=(1120, 325, 1212, 367))],
    [dict(box=(92, 386, 386, 743), ylim=(0, 210), leg_w=278, mk=88, tx=108, status=(290, 703, 386, 743)),
     dict(box=(506, 386, 798, 735), ylim=(6.8, 217), leg_w=277, mk=86, tx=109, status=(704, 703, 798, 735)),
     dict(box=(920, 386, 1212, 735), ylim=(6.1, 218), leg_w=278, mk=87, tx=108, status=(1134, 703, 1212, 735))],
    [dict(box=(92, 764, 387, 1121), ylim=(19, 312.6), leg_w=146, mk=23, tx=43, status=(295, 1081, 387, 1121)),
     dict(box=(507, 765, 798, 1122), ylim=(24.8, 351), leg_w=144, mk=20, tx=42, status=(721, 1081, 798, 1122)),
     dict(box=(920, 764, 1212, 1122), ylim=(30.4, 375.8), leg_w=144, mk=20, tx=43, status=(1134, 1081, 1212, 1122))],
    [dict(box=(92, 1138, 387, 1497), ylim=(11, 203.5), leg_w=140, mk=15, tx=36, status=(291, 1454, 387, 1497)),
     dict(box=(506, 1138, 798, 1497), ylim=(13, 234.3), leg_w=132, mk=13, tx=36, status=(720, 1453, 798, 1497)),
     dict(box=(920, 1138, 1210, 1497), ylim=(15.2, 264.6), leg_w=132, mk=13, tx=37, status=(1134, 1454, 1210, 1497))],
]
SEPARATORS = [382, 755, 1135]

RED = '#E5685E'
RED_DASH = '#D9766E'
GRID = '#c4c4c4'
INK = '#333333'
RATING_COLORS = {'GOOD': '#8FCF87', 'FAIR': '#F8D66A', 'POOR': '#EC6656'}


def gumbel(p):
    p = np.clip(np.asarray(p, dtype=float), 1e-12, 1 - 1e-12)
    return -np.log(-np.log(p))


def gumbel_inv(y):
    return np.exp(-np.exp(-np.asarray(y, dtype=float)))


W, H = 1215, 1584
fig = plt.figure(figsize=(W / 100, H / 100), dpi=100)
PX = Affine2D().scale(1.0 / W, -1.0 / H).translate(0, 1) + fig.transFigure


def draw_legend(L, T, width, mk, tx, title):
    fig.add_artist(Rectangle((L, T), width, 74, transform=PX, facecolor='white',
                             edgecolor=INK, lw=1.0, zorder=5))
    fig.text(L + width / 2, T + 11, title, transform=PX, ha='center', va='center',
             fontsize=9.3, color=INK, zorder=7)
    fig.add_artist(Line2D([L + mk], [T + 31], transform=PX, ls='none', marker='+',
                          ms=7, mew=1.0, color=RED, zorder=6))
    fig.add_artist(Line2D([L + mk - 12, L + mk + 12], [T + 45, T + 45], transform=PX,
                          ls=(0, (4, 3.5)), lw=1.1, color=RED_DASH, zorder=6))
    fig.add_artist(Line2D([L + mk], [T + 60], transform=PX, ls='none', marker='o',
                          ms=4.5, mew=0, color='black', zorder=6))
    for dy, txt in zip((31, 45, 60), ('Sim. Median', 'Sim. 90% limits', 'Observed')):
        fig.text(L + tx, T + dy, txt, transform=PX, ha='left', va='center',
                 fontsize=9.7, color=INK, zorder=7)


def draw_rating(box, rating):
    sL, sT, sR, sB = box
    fig.add_artist(Rectangle((sL, sT), sR - sL, sB - sT, transform=PX, facecolor='white',
                             edgecolor=INK, lw=1.0, zorder=5))
    fig.add_artist(Rectangle((sL + 7, sT + 13), 16, 16, transform=PX,
                             facecolor=RATING_COLORS[rating], edgecolor='none', zorder=6))
    fig.text(sL + 31, sT + 22, rating, transform=PX, ha='left', va='center',
             fontsize=13, color=INK, zorder=7)


lim_prob = np.array(LIM_RANKS) / (N_YEARS + 1.0)

for r in range(4):
    for c in range(3):
        obs, med, lo, hi = SERIES[r][c]
        lay = LAYOUT[r][c]
        L, T, R, B = lay['box']
        ax = fig.add_axes([L / W, 1 - B / H, (R - L) / W, (B - T) / H])
        ax.set_xscale('function', functions=(gumbel, gumbel_inv))

        p_obs = np.arange(1, len(obs) + 1) / (len(obs) + 1.0)
        p_med = np.arange(1, len(med) + 1) / (len(med) + 1.0)
        g = gumbel(p_obs)
        span = g[-1] - g[0]
        ax.set_xlim(gumbel_inv(g[0] - 0.04 * span), gumbel_inv(g[-1] + 0.04 * span))
        ax.set_ylim(*lay['ylim'])

        # reference grid
        for p in PROB_TICKS:
            ax.axvline(p, color=GRID, lw=0.9, ls=(0, (4, 4)), zorder=0.5)
        ax.yaxis.set_major_locator(MultipleLocator(50))
        y0, y1 = lay['ylim']
        for v in np.arange(0, 400, 50):
            if y0 <= v <= y1:
                ax.axhline(v, color=GRID, lw=0.9, ls=(0, (1, 3)), zorder=0.5)

        # simulated limits, medians and observations
        ax.plot(lim_prob[:len(lo)], lo, ls=(0, (4, 3.5)), lw=1.1, color=RED_DASH, zorder=2)
        ax.plot(lim_prob[:len(hi)], hi, ls=(0, (4, 3.5)), lw=1.1, color=RED_DASH, zorder=2)
        ax.plot(p_med, med, ls='none', marker='+', ms=7, mew=1.0, color=RED, zorder=3)
        ax.scatter(p_obs, obs, s=46, c='black', linewidths=0, zorder=4)

        ax.set_xticks(PROB_TICKS)
        ax.xaxis.set_minor_locator(NullLocator())
        if r == 3:
            ax.set_xticklabels(PROB_LABELS)
        else:
            ax.set_xticklabels([''] * len(PROB_TICKS))
        ax.tick_params(axis='both', direction='out', length=7.2, width=0.9, color=INK,
                       labelcolor=INK, labelsize=12.8)
        ax.tick_params(axis='x', pad=8)
        ax.tick_params(axis='y', pad=5)
        for s in ax.spines.values():
            s.set_color(INK)
            s.set_linewidth(1.0)

        fig.text(L - 73, (T + B) / 2, DURATIONS[c] + ' Annual Maximum (mm)', transform=PX,
                 rotation=90, ha='center', va='center', fontsize=13.5, color=INK)
        if r == 3:
            fig.text((L + R) / 2, 1578, 'Cumulative Probability(%)', transform=PX,
                     ha='center', va='baseline', fontsize=12.8, color=INK)

        draw_legend(L, T, lay['leg_w'], lay['mk'], lay['tx'], STATIONS[r])
        draw_rating(lay['status'], RATINGS[r][c])

for y in SEPARATORS:
    fig.add_artist(Line2D([10, W], [y, y], transform=PX, color='#d4d4d4', lw=1.5, zorder=1))

fig.savefig('out.png', dpi=100)
